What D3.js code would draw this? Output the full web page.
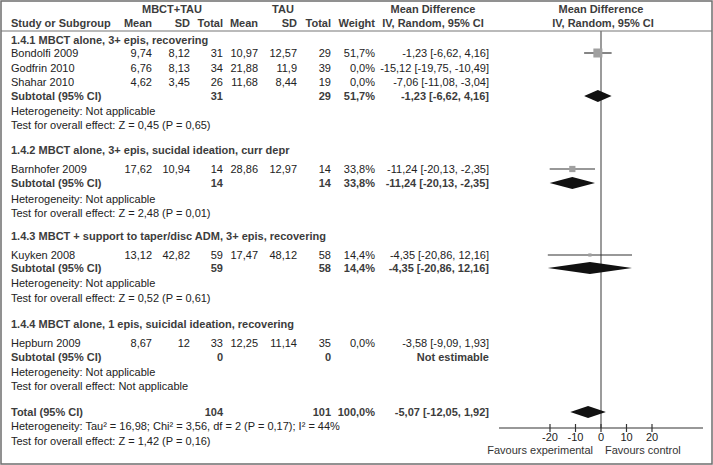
<!DOCTYPE html>
<html>
<head>
<meta charset="utf-8">
<script src="https://cdn.jsdelivr.net/npm/d3@7"></script>
<style>
html,body{margin:0;padding:0;background:#fff;}
svg{display:block;font-family:"Liberation Sans",Arial,sans-serif;font-size:11px;}
</style>
</head>
<body>
<svg id="chart" width="713" height="465"></svg>
<script>
// ---------- data ----------
const groupTitles = [
  "1.4.1 MBCT alone, 3+ epis, recovering",
  "1.4.2 MBCT alone, 3+ epis, sucidal ideation, curr depr",
  "1.4.3 MBCT + support to taper/disc ADM, 3+ epis, recovering",
  "1.4.4 MBCT alone, 1 epis, suicidal ideation, recovering"
];
const studies    = ["Bondolfi 2009","Godfrin 2010","Shahar 2010","Barnhofer 2009","Kuyken 2008","Hepburn 2009"];
const studyGroup = [0,0,0,1,2,3];
const expMean = [9.74, 6.76, 4.62, 17.62, 13.12, 8.67];
const expSD   = [8.12, 8.13, 3.45, 10.94, 42.82, 12];
const expN    = [31, 34, 26, 14, 59, 33];
const ctlMean = [10.97, 21.88, 11.68, 28.86, 17.47, 12.25];
const ctlSD   = [12.57, 11.9, 8.44, 12.97, 48.12, 11.14];
const ctlN    = [29, 39, 19, 14, 58, 35];
const weights = [51.7, 0, 0, 33.8, 14.4, 0];
const md      = [-1.23, -15.12, -7.06, -11.24, -4.35, -3.58];
const ciLo    = [-6.62, -19.75, -11.08, -20.13, -20.86, -9.09];
const ciHi    = [4.16, -10.49, -3.04, -2.35, 12.16, 1.93];

const subExpN   = [31, 14, 59, 0];
const subCtlN   = [29, 14, 58, 0];
const subWeight = [51.7, 33.8, 14.4, null];
const subMD     = [-1.23, -11.24, -4.35, null];
const subLo     = [-6.62, -20.13, -20.86, null];
const subHi     = [4.16, -2.35, 12.16, null];
const subHet    = ["Heterogeneity: Not applicable","Heterogeneity: Not applicable","Heterogeneity: Not applicable","Heterogeneity: Not applicable"];
const subTest   = ["Test for overall effect: Z = 0,45 (P = 0,65)","Test for overall effect: Z = 2,48 (P = 0,01)","Test for overall effect: Z = 0,52 (P = 0,61)","Test for overall effect: Not applicable"];

const totalExpN = 104, totalCtlN = 101, totalWeight = 100.0;
const totalMD = -5.07, totalLo = -12.05, totalHi = 1.92;
const totalHet  = "Heterogeneity: Tau² = 16,98; Chi² = 3,56, df = 2 (P = 0,17); I² = 44%";
const totalTest = "Test for overall effect: Z = 1,42 (P = 0,16)";

const tickValues = [-20, -10, 0, 10, 20];
const favoursLeft = "Favours experimental", favoursRight = "Favours control";

// ---------- layout ----------
const W = 713, H = 465;
const rowY = {
  g: [40, 150, 236, 324],
  study: [53, 68, 82, 169, 255, 343],
  sub: [96, 183, 268, 357],
  het: [111, 199, 283, 372],
  test: [125, 213, 298, 386],
  total: 412, totalHet: 426, totalTest: 441
};
const col = {label: 11, eMean: 152, eSD: 190, eN: 223, cMean: 258, cSD: 297, cN: 331, w: 375, ci: 489};
const axisY = 428;
const textCol = "#222", boldCol = "#3c3c3c";

const fmt = (v, d) => (d === undefined ? String(v) : v.toFixed(d)).replace(".", ",");
const ciText = (m, l, h) => `${fmt(m,2)} [${fmt(l,2)}, ${fmt(h,2)}]`;

const svg = d3.select("#chart");
const x = d3.scaleLinear().domain([-40, 40]).range([499, 703]);
const boxSize = d3.scaleLinear().domain([0, 51.7]).range([1, 9]);

// border
svg.append("rect").attr("x", 1).attr("y", 1).attr("width", W - 2).attr("height", H - 2)
  .attr("fill", "none").attr("stroke", "#6e6e6e").attr("stroke-width", 1.5);
svg.append("line").attr("x1", 1).attr("x2", W - 1).attr("y1", 31).attr("y2", 31)
  .attr("stroke", "#777").attr("stroke-width", 1.2);

function txt(s, xx, yy, anchor, bold, color) {
  return svg.append("text").attr("x", xx).attr("y", yy + 4)
    .attr("text-anchor", anchor || "start")
    .attr("font-weight", bold ? "bold" : "normal")
    .attr("fill", color || (bold ? boldCol : textCol))
    .text(s);
}

// header
txt("MBCT+TAU", 172, 9, "middle", true);
txt("TAU", 283, 9, "middle", true);
txt("Mean Difference", 433, 9, "middle", true);
txt("Mean Difference", 601, 9, "middle", true);
txt("Study or Subgroup", col.label, 23, "start", true);
txt("Mean", col.eMean, 23, "end", true);
txt("SD", col.eSD, 23, "end", true);
txt("Total", col.eN, 23, "end", true);
txt("Mean", col.cMean, 23, "end", true);
txt("SD", col.cSD, 23, "end", true);
txt("Total", col.cN, 23, "end", true);
txt("Weight", col.w, 23, "end", true);
txt("IV, Random, 95% CI", 433, 23, "middle", true);
txt("IV, Random, 95% CI", 603, 23, "middle", true);

// zero line
svg.append("line").attr("x1", x(0)).attr("x2", x(0)).attr("y1", 31).attr("y2", axisY)
  .attr("stroke", "#7a7a7a").attr("stroke-width", 1.5);

function diamond(m, l, h, yy) {
  const hh = 6;
  svg.append("path")
    .attr("d", `M${x(l)},${yy} L${x(m)},${yy - hh} L${x(h)},${yy} L${x(m)},${yy + hh} Z`)
    .attr("fill", "#111");
}

// groups
groupTitles.forEach((g, gi) => {
  txt(g, col.label, rowY.g[gi], "start", true);
  studies.forEach((s, i) => {
    if (studyGroup[i] !== gi) return;
    const yy = rowY.study[i];
    txt(s, col.label, yy);
    txt(fmt(expMean[i]), col.eMean, yy, "end");
    txt(fmt(expSD[i]), col.eSD, yy, "end");
    txt(String(expN[i]), col.eN, yy, "end");
    txt(fmt(ctlMean[i]), col.cMean, yy, "end");
    txt(fmt(ctlSD[i]), col.cSD, yy, "end");
    txt(String(ctlN[i]), col.cN, yy, "end");
    txt(fmt(weights[i], 1) + "%", col.w, yy, "end");
    txt(ciText(md[i], ciLo[i], ciHi[i]), col.ci, yy, "end");
    if (weights[i] > 0) {
      svg.append("line").attr("x1", x(ciLo[i])).attr("x2", x(ciHi[i])).attr("y1", yy).attr("y2", yy)
        .attr("stroke", "#333").attr("stroke-width", 1.2);
      const b = boxSize(weights[i]);
      svg.append("rect").attr("x", x(md[i]) - b / 2).attr("y", yy - b / 2)
        .attr("width", b).attr("height", b).attr("fill", "#a0a0a0");
    }
  });
  const sy = rowY.sub[gi];
  txt("Subtotal (95% CI)", col.label, sy, "start", true);
  txt(String(subExpN[gi]), col.eN, sy, "end", true);
  txt(String(subCtlN[gi]), col.cN, sy, "end", true);
  if (subWeight[gi] !== null) {
    txt(fmt(subWeight[gi], 1) + "%", col.w, sy, "end", true);
    txt(ciText(subMD[gi], subLo[gi], subHi[gi]), col.ci, sy, "end", true);
    diamond(subMD[gi], subLo[gi], subHi[gi], sy);
  } else {
    txt("Not estimable", col.ci, sy, "end", true);
  }
  txt(subHet[gi], col.label, rowY.het[gi]);
  txt(subTest[gi], col.label, rowY.test[gi]);
});

// total
txt("Total (95% CI)", col.label, rowY.total, "start", true);
txt(String(totalExpN), col.eN, rowY.total, "end", true);
txt(String(totalCtlN), col.cN, rowY.total, "end", true);
txt(fmt(totalWeight, 1) + "%", col.w, rowY.total, "end", true);
txt(ciText(totalMD, totalLo, totalHi), col.ci, rowY.total, "end", true);
diamond(totalMD, totalLo, totalHi, rowY.total);
txt(totalHet, col.label, rowY.totalHet);
txt(totalTest, col.label, rowY.totalTest);

// axis
const ax = svg.append("g");
ax.append("line").attr("x1", x.range()[0]).attr("x2", x.range()[1]).attr("y1", axisY).attr("y2", axisY)
  .attr("stroke", "#333").attr("stroke-width", 1.2);
ax.selectAll("line.tick").data(tickValues).enter().append("line")
  .attr("x1", d => x(d)).attr("x2", d => x(d)).attr("y1", axisY - 4).attr("y2", axisY + 4)
  .attr("stroke", "#333").attr("stroke-width", 1.2);
ax.selectAll("text.tick").data(tickValues).enter().append("text")
  .attr("x", d => x(d)).attr("y", axisY + 13).attr("text-anchor", "middle")
  .attr("fill", textCol).text(d => d);
svg.append("text").attr("x", x(0) - 8).attr("y", axisY + 26).attr("text-anchor", "end")
  .attr("fill", "#333").text(favoursLeft);
svg.append("text").attr("x", x(0) + 4).attr("y", axisY + 26).attr("text-anchor", "start")
  .attr("fill", "#333").text(favoursRight);
</script>
</body>
</html>
